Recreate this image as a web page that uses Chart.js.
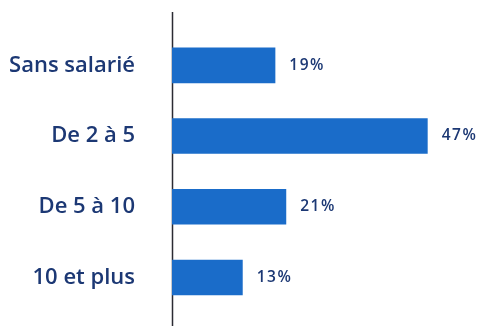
<!DOCTYPE html>
<html>
<head>
<meta charset="utf-8">
<script src="https://cdn.jsdelivr.net/npm/chart.js@4.4.1/dist/chart.umd.min.js"></script>
<style>
  html, body { margin: 0; padding: 0; background: #ffffff; }
  #wrap { width: 479px; height: 326px; }
</style>
</head>
<body>
<div id="wrap"><canvas id="c"></canvas></div>
<script>
// company size breakdown (share of respondents, %)
const categories = ['Sans salarié', 'De 2 à 5', 'De 5 à 10', '10 et plus'];
const shares = [19, 47, 21, 13];

const navy = '#1c3874';
const barBlue = '#1a6cc9';

// value written just past the end of each bar
const valueLabels = {
  id: 'valueLabels',
  afterDatasetsDraw(chart) {
    const ctx = chart.ctx;
    const meta = chart.getDatasetMeta(0);
    ctx.save();
    ctx.font = '600 15.5px "Open Sans"';
    ctx.fillStyle = navy;
    ctx.textAlign = 'left';
    ctx.textBaseline = 'middle';
    ctx.letterSpacing = '1.5px';
    meta.data.forEach((bar, i) => {
      ctx.fillText(shares[i] + '%', bar.x + 14, bar.y);
    });
    ctx.restore();
  }
};

// vertical baseline, running past the plot area top and bottom
const baseline = {
  id: 'baseline',
  beforeDatasetsDraw(chart) {
    const ctx = chart.ctx;
    const x = Math.round(chart.scales.x.getPixelForValue(0)) + 0.5;
    ctx.save();
    ctx.strokeStyle = '#2b2b33';
    ctx.lineWidth = 1.5;
    ctx.beginPath();
    ctx.moveTo(x, 12);
    ctx.lineTo(x, chart.height);
    ctx.stroke();
    ctx.restore();
  }
};

new Chart(document.getElementById('c'), {
  type: 'bar',
  data: {
    labels: categories,
    datasets: [{
      data: shares,
      backgroundColor: barBlue,
      borderWidth: 0,
      barPercentage: 0.9,
      categoryPercentage: 0.56
    }]
  },
  options: {
    indexAxis: 'y',
    responsive: true,
    maintainAspectRatio: false,
    animation: false,
    layout: { padding: { top: 30, bottom: 12, right: 35, left: 0 } },
    plugins: {
      legend: { display: false },
      tooltip: { enabled: false }
    },
    scales: {
      x: {
        display: false,
        min: 0,
        max: 50
      },
      y: {
        afterFit(scale) { scale.width = 172; },
        // invisible tick marks push the labels away from the baseline
        grid: { display: true, drawOnChartArea: false, drawTicks: true, tickLength: 37, color: 'rgba(0,0,0,0)' },
        border: { display: false },
        ticks: {
          padding: 0,
          color: navy,
          font: { family: '"Open Sans"', size: 22, weight: '600' }
        }
      }
    }
  },
  plugins: [baseline, valueLabels]
});
</script>
</body>
</html>
